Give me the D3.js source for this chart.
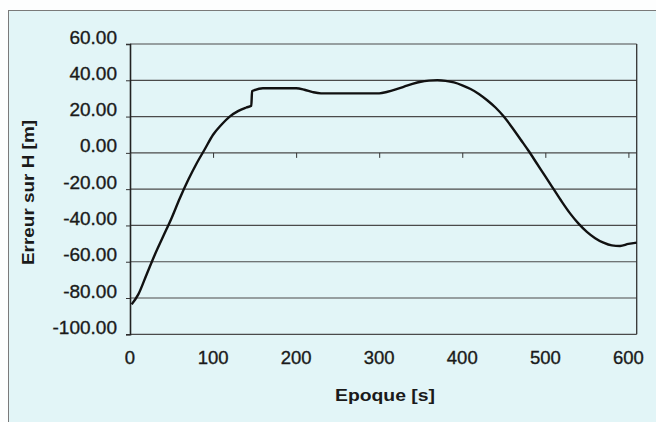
<!DOCTYPE html>
<html>
<head>
<meta charset="utf-8">
<script src="https://cdn.jsdelivr.net/npm/d3@7"></script>
<style>
  html, body { margin: 0; padding: 0; background: #fdfefe; }
  text { font-family: "Liberation Sans", Arial, sans-serif; fill: #1a1a1a; }
</style>
</head>
<body>
<div id="chart"></div>
<script>
// données
const epoques = [2, 10, 20, 30, 40, 50, 60, 70, 80, 90, 100, 110, 120, 130, 140, 146, 147, 150,
  160, 170, 180, 190, 200, 210, 220, 230, 240, 250, 260, 270, 280, 290, 300, 310, 320, 330,
  340, 350, 360, 370, 380, 390, 400, 410, 420, 430, 440, 450, 460, 470, 480, 490, 500, 510,
  520, 530, 540, 550, 560, 570, 580, 590, 600, 610];
const erreurs = [-83.5, -78, -67, -56, -46, -36, -25, -15, -6, 2, 10, 15.5, 20, 23, 25, 26, 34, 34.6,
  35.6, 35.6, 35.6, 35.6, 35.6, 34.8, 33.5, 32.8, 32.8, 32.8, 32.8, 32.8, 32.8, 32.8, 32.8, 33.7, 35, 36.5,
  38, 39.2, 39.8, 40, 39.7, 38.8, 37.2, 35.2, 32.5, 29, 25, 20, 14, 7.5, 1, -6, -13, -20,
  -27, -33.5, -39, -43.5, -47, -49.5, -51, -51.3, -50.2, -49.5];
const yTicks = [60, 40, 20, 0, -20, -40, -60, -80, -100];
const xTicks = [0, 100, 200, 300, 400, 500, 600];

const W = 656, H = 422;
const plot = { left: 130, right: 636.7, top: 44, bottom: 334.3 };

const svg = d3.select("#chart").append("svg")
    .attr("width", W).attr("height", H);

// cadre du graphique
svg.append("rect")
    .attr("x", 8.5).attr("y", 10.5)
    .attr("width", W + 10).attr("height", H + 10)
    .attr("fill", "#e2f5f7")
    .attr("stroke", "#7a7a7a").attr("stroke-width", 1);

const x = d3.scaleLinear().domain([0, 610]).range([plot.left, plot.right]);
const y = d3.scaleLinear().domain([-100, 60]).range([plot.bottom, plot.top]);

// lignes de quadrillage
svg.append("g").selectAll("line")
    .data(yTicks)
    .enter().append("line")
    .attr("x1", plot.left).attr("x2", plot.right)
    .attr("y1", d => y(d)).attr("y2", d => y(d))
    .attr("stroke", "#4a4a4a").attr("stroke-width", 1.2);

// bordure droite
svg.append("line")
    .attr("x1", plot.right).attr("x2", plot.right)
    .attr("y1", plot.top).attr("y2", plot.bottom)
    .attr("stroke", "#333").attr("stroke-width", 1.3);

// axe Y
const yAxis = svg.append("g")
    .attr("transform", `translate(${plot.left},0)`)
    .call(d3.axisLeft(y).tickValues(yTicks).tickSize(4).tickPadding(9)
        .tickFormat(d => d.toFixed(2)));
yAxis.select(".domain").attr("stroke", "#222").attr("stroke-width", 1.6);
yAxis.selectAll(".tick line").attr("stroke", "#333");
yAxis.selectAll(".tick text")
    .attr("font-size", 19).attr("dy", "-0.05em")
    .attr("fill", "#1a1a1a")
    .attr("stroke", "#1a1a1a").attr("stroke-width", 0.35)
    .style("font-family", '"Liberation Sans", Arial, sans-serif');

// axe X (graduations sur la ligne du zéro)
const xAxis = svg.append("g")
    .attr("transform", `translate(0,${y(0)})`)
    .call(d3.axisBottom(x).tickValues(xTicks).tickSize(5).tickFormat(""));
xAxis.select(".domain").remove();
xAxis.selectAll(".tick line").attr("stroke", "#333");

svg.append("g").selectAll("text")
    .data(xTicks)
    .enter().append("text")
    .attr("x", d => x(d))
    .attr("y", 364)
    .attr("text-anchor", "middle")
    .attr("font-size", 18.5)
    .attr("stroke", "#1a1a1a").attr("stroke-width", 0.35)
    .text(d => d);

// courbe
const line = d3.line()
    .x((d, i) => x(epoques[i]))
    .y(d => y(d))
    .curve(d3.curveMonotoneX);

svg.append("path")
    .datum(erreurs)
    .attr("fill", "none")
    .attr("stroke", "#111")
    .attr("stroke-width", 2.4)
    .attr("stroke-linejoin", "round")
    .attr("d", line);

// titres des axes
svg.append("text")
    .attr("x", 385).attr("y", 401)
    .attr("text-anchor", "middle")
    .attr("font-size", 17).attr("font-weight", "bold")
    .attr("textLength", 100).attr("lengthAdjust", "spacingAndGlyphs")
    .text("Epoque [s]");

svg.append("text")
    .attr("transform", "translate(33.5,192.5) rotate(-90)")
    .attr("text-anchor", "middle")
    .attr("font-size", 16.5).attr("font-weight", "bold")
    .attr("textLength", 145).attr("lengthAdjust", "spacingAndGlyphs")
    .text("Erreur sur H [m]");
</script>
</body>
</html>
